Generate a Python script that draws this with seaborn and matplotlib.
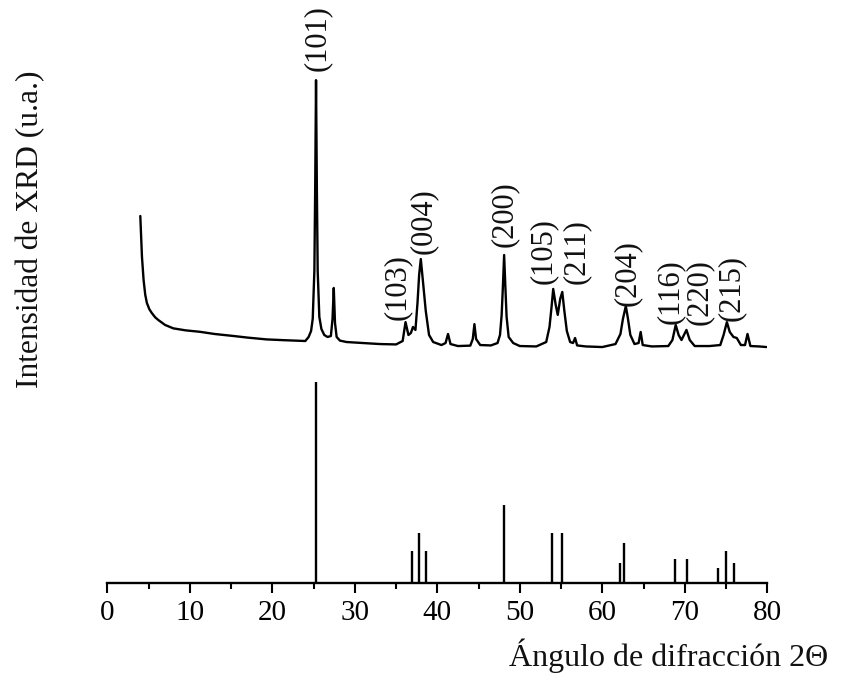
import numpy as np
import pandas as pd
import seaborn as sns
import matplotlib
matplotlib.use("Agg")
import matplotlib.pyplot as plt
from matplotlib.ticker import MultipleLocator

# ---------------- data ----------------
exp_theta = [4.0, 4.2, 4.4, 4.6, 4.8, 5.1, 5.4, 5.8, 6.2, 7.0, 8.0, 9.5, 11.2, 13.0, 15.3,
             17.0, 19.3, 21.5, 23.4, 24.0, 24.4, 24.7, 24.9, 25.1, 25.2, 25.3, 25.4, 25.5,
             25.7, 25.95, 26.3, 26.7, 27.1, 27.3, 27.45, 27.6, 27.8, 28.2, 29.0, 31.0, 33.0,
             35.0, 35.8, 36.15, 36.5, 36.8, 37.05, 37.35, 37.6, 37.8, 38.0, 38.3, 38.6, 39.0,
             39.5, 40.5, 41.0, 41.3, 41.6, 42.5, 44.0, 44.3, 44.5, 44.7, 45.2, 46.5, 47.3,
             47.6, 47.8, 47.95, 48.1, 48.25, 48.4, 48.65, 49.2, 50.0, 52.0, 53.2, 53.6, 53.85,
             54.05, 54.35, 54.6, 54.9, 55.15, 55.4, 55.7, 56.1, 56.45, 56.7, 56.95, 58.0, 60.0,
             61.6, 62.2, 62.5, 62.85, 63.1, 63.4, 63.9, 64.4, 64.65, 64.9, 66.0, 68.0, 68.5,
             68.9, 69.25, 69.6, 70.2, 70.6, 71.2, 73.0, 74.3, 74.7, 75.1, 75.45, 75.9, 76.3,
             76.8, 77.3, 77.6, 77.95, 79.0, 79.9]
exp_int = [65.2, 45.0, 33.3, 26.0, 21.9, 18.8, 16.9, 14.8, 13.4, 11.0, 9.3, 8.3, 7.6, 6.5, 5.5,
           4.7, 3.8, 3.4, 3.1, 3.0, 5.0, 8.0, 14.0, 38.0, 80.0, 132.8, 80.0, 38.0,
           15.0, 9.0, 6.0, 5.0, 5.5, 14.0, 29.4, 12.0, 5.0, 3.2, 2.5, 2.0, 1.5,
           1.3, 3.0, 12.4, 6.0, 7.0, 10.0, 8.5, 22.0, 36.0, 43.8, 31.0, 18.0, 6.0,
           2.5, 1.0, 2.0, 6.5, 1.5, 0.5, 0.7, 4.0, 11.4, 4.0, 1.0, 0.8, 2.0,
           6.0, 16.0, 30.0, 45.8, 30.0, 15.0, 5.0, 2.0, 0.5, 0.3, 2.5, 10.0, 20.0,
           28.9, 21.0, 16.0, 24.0, 27.4, 18.0, 8.0, 2.5, 2.0, 4.5, 0.8, 0.3, 0.0,
           1.5, 6.5, 14.0, 20.4, 14.4, 6.0, 1.5, 2.0, 7.5, 1.0, 0.3, 0.5, 3.5,
           11.0, 6.0, 3.5, 8.5, 3.5, 0.5, 0.5, 1.0, 6.0, 12.4, 7.5, 5.0, 4.5,
           1.0, 1.0, 6.5, 0.5, 0.3, 0.0]

# Reference pattern (anatase card), 2theta and relative intensity
ref_theta = [25.3, 36.95, 37.8, 38.58, 48.05, 53.89, 55.06, 62.12, 62.69, 68.76, 70.31,
             74.03, 75.03, 76.02]
ref_int = [100, 16, 25, 16, 39, 25, 25, 10, 20, 12, 12, 7.5, 16, 10]

# Peak labels (Miller indices) and the 2theta where they are written
hkl_labels = ["(101)", "(103)", "(004)", "(200)", "(105)", "(211)", "(204)", "(116)", "(220)", "(215)"]
hkl_theta = [25.5, 35.2, 38.3, 48.1, 52.8, 56.9, 63.0, 68.3, 71.8, 75.7]

x_ticks = [0, 10, 20, 30, 40, 50, 60, 70, 80]

# ---------------- layout / style ----------------
exp_offset = 117.4
label_y = [271, 147, 180, 183.6, 165, 165, 154, 145, 145, 147]

sns.set_theme(style="white")
plt.rcParams["font.family"] = ["Liberation Serif", "DejaVu Serif"]
plt.rcParams["mathtext.fontset"] = "stix"

fig = plt.figure(figsize=(8.41, 6.95), dpi=100)
ax = fig.add_axes([107.3 / 841, 112 / 695, 660 / 841, 573 / 695])

df = pd.DataFrame({"theta": exp_theta, "intensity": np.array(exp_int) + exp_offset})
sns.lineplot(data=df, x="theta", y="intensity", ax=ax, color="black", linewidth=1.7,
             estimator=None, sort=False)

ax.vlines(ref_theta, 0, ref_int, colors="black", linewidth=1.7)

for lab, tx, ty in zip(hkl_labels, hkl_theta, label_y):
    ax.text(tx, ty, lab, rotation=90, ha="center", va="center", fontsize=22, color="#111111",
            clip_on=False)

ax.set_xlim(0, 80)
ax.set_ylim(0, 285.1)
ax.set_xticks(x_ticks)
ax.set_xticklabels([str(t) for t in x_ticks])
ax.xaxis.set_minor_locator(MultipleLocator(5))
ax.set_yticks([])
for s in ["top", "right", "left"]:
    ax.spines[s].set_visible(False)
ax.spines["bottom"].set_linewidth(1.7)
ax.spines["bottom"].set_color("black")
ax.tick_params(axis="x", which="major", direction="out", length=7.5, width=1.5,
               labelsize=21, pad=5, colors="black", bottom=True)
ax.tick_params(axis="x", which="minor", direction="out", length=4, width=1.5,
               colors="black", bottom=True)

ax.set_xlabel("Ángulo de difracción 2Θ", fontsize=23, color="#111111")
ax.xaxis.set_label_coords(0.850, -0.097)
ax.set_ylabel("Intensidad de XRD (u.a.)", fontsize=22.7, color="#111111")
ax.yaxis.set_label_coords(-0.094, 0.618)

fig.patch.set_facecolor("white")
ax.set_facecolor("white")
fig.savefig("out.png", dpi=100, facecolor="white")
